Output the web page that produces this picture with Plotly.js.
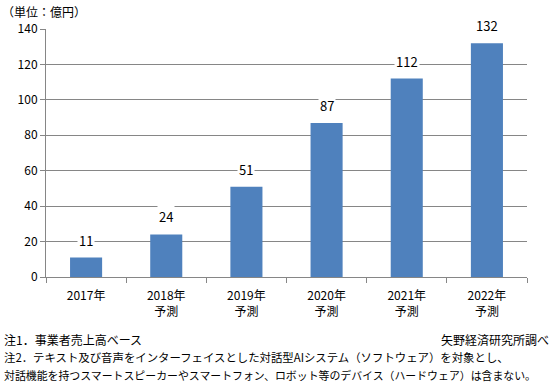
<!DOCTYPE html>
<html><head><meta charset="utf-8">
<script src="https://cdn.plot.ly/plotly-3.0.1.min.js"></script>
<style>html,body{margin:0;padding:0;background:#fff}</style>
</head><body>
<div id="chart" style="width:555px;height:387px"></div>
<script>
const categories = ["2017年", "2018年<br>予測", "2019年<br>予測", "2020年<br>予測", "2021年<br>予測", "2022年<br>予測"];
const values = [11, 24, 51, 87, 112, 132];
const yTicks = [0, 20, 40, 60, 80, 100, 120, 140];
const unitLabel = "（単位：億円）";
const note1 = "注1．事業者売上高ベース";
const note2 = "注2．テキスト及び音声をインターフェイスとした対話型AIシステム（ソフトウェア）を対象とし、";
const note3 = "対話機能を持つスマートスピーカーやスマートフォン、ロボット等のデバイス（ハードウェア）は含まない。";
const source = "矢野経済研究所調べ";

const FONT = "'MS PGothic','Noto Sans CJK JP','Meiryo',sans-serif";
const grid = "#868686";

const trace = {
  type: "bar",
  x: categories,
  y: values,
  marker: {color: "#4F81BD"},
  hoverinfo: "none"
};

const valueAnns = categories.map((c, i) => ({
  x: c, y: values[i], xref: "x", yref: "y",
  text: String(values[i]), showarrow: false,
  yanchor: "bottom", yshift: 6,
  bgcolor: "#ffffff", borderpad: 1,
  font: {family: FONT, size: 13, color: "#000"}
}));

const textAnns = [
  {text: unitLabel, x: 0, y: 387 - 12, xanchor: "left", size: 12},
  {text: note1, x: 2, y: 387 - 339, xanchor: "left", size: 12},
  {text: source, x: 551, y: 387 - 339, xanchor: "right", size: 12},
  {text: note2, x: 2, y: 387 - 357, xanchor: "left", size: 11.4},
  {text: note3, x: 2, y: 387 - 375, xanchor: "left", size: 10.9}
].map(a => ({
  text: a.text, xref: "paper", yref: "paper",
  x: (a.x - 46) / (555 - 46 - 28), y: (a.y - 110) / (387 - 29 - 110),
  xanchor: a.xanchor, yanchor: "middle", showarrow: false,
  font: {family: FONT, size: a.size, color: "#000"}
}));

const layout = {
  width: 555, height: 387,
  margin: {l: 46, r: 28, t: 29, b: 110},
  paper_bgcolor: "#fff", plot_bgcolor: "#fff",
  bargap: 0.6,
  showlegend: false,
  font: {family: FONT, size: 12, color: "#000"},
  xaxis: {
    type: "category",
    showline: true, linecolor: grid, linewidth: 1,
    ticks: "outside", tickson: "boundaries", ticklen: 5, tickcolor: grid,
    showgrid: false,
    ticklabelstandoff: 8,
    tickfont: {family: FONT, size: 12, color: "#000"}
  },
  yaxis: {
    range: [0, 140],
    tickvals: yTicks,
    ticktext: yTicks.map(String),
    showline: true, linecolor: grid, linewidth: 1,
    ticks: "outside", ticklen: 5, tickcolor: grid,
    showgrid: true, gridcolor: grid, gridwidth: 1,
    zeroline: false,
    tickfont: {family: FONT, size: 12, color: "#000"}
  },
  annotations: valueAnns.concat(textAnns)
};

Plotly.newPlot("chart", [trace], layout, {displayModeBar: false, staticPlot: true});
</script>
</body></html>
